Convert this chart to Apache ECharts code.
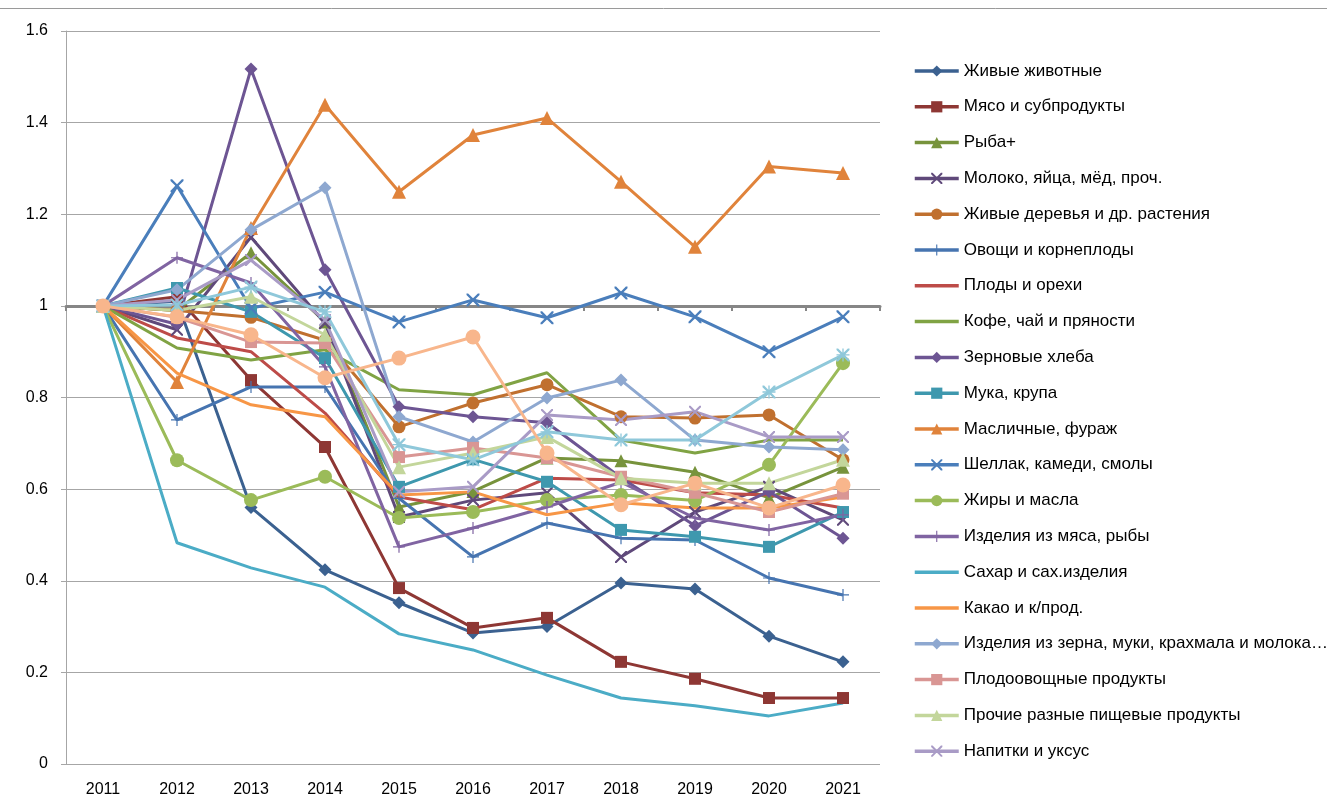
<!DOCTYPE html>
<html>
<head>
  <meta charset="utf-8">
  <title>Индексы</title>
  <style>
    html, body { margin: 0; padding: 0; background: #fff; }
    #chart { width: 1327px; height: 808px; }
  </style>
  <script src="https://cdn.jsdelivr.net/npm/echarts@6/dist/echarts.min.js"></script>
</head>
<body>
  <div id="chart"></div>
  <script>
    // годы и значения рядов (2011 = 1)
    var years = ['2011', '2012', '2013', '2014', '2015', '2016', '2017', '2018', '2019', '2020', '2021'];
    var yTicks = [0, 0.2, 0.4, 0.6, 0.8, 1, 1.2, 1.4, 1.6];

    var zhivotnye   = [1, 1.01, 0.56, 0.424, 0.352, 0.286, 0.30, 0.395, 0.382, 0.279, 0.223];
    var myaso       = [1, 1.02, 0.838, 0.692, 0.384, 0.297, 0.319, 0.223, 0.186, 0.144, 0.144];
    var ryba        = [1, 0.99, 1.116, 0.965, 0.561, 0.595, 0.668, 0.662, 0.637, 0.581, 0.648];
    var moloko      = [1, 0.948, 1.15, 0.962, 0.539, 0.576, 0.592, 0.452, 0.55, 0.605, 0.533];
    var derevya     = [1, 0.99, 0.975, 0.925, 0.736, 0.788, 0.828, 0.758, 0.755, 0.762, 0.664];
    var ovoshchi    = [1, 0.751, 0.823, 0.823, 0.58, 0.452, 0.526, 0.493, 0.489, 0.406, 0.369];
    var plody       = [1, 0.93, 0.90, 0.766, 0.583, 0.555, 0.624, 0.62, 0.592, 0.587, 0.559];
    var kofe        = [1, 0.908, 0.882, 0.904, 0.817, 0.806, 0.854, 0.707, 0.679, 0.707, 0.707];
    var zernovye    = [1, 0.96, 1.517, 1.079, 0.78, 0.758, 0.745, 0.625, 0.52, 0.595, 0.493];
    var muka        = [1, 1.039, 0.987, 0.886, 0.605, 0.665, 0.616, 0.511, 0.496, 0.474, 0.55];
    var maslichnye  = [1, 0.834, 1.17, 1.439, 1.249, 1.373, 1.41, 1.271, 1.129, 1.304, 1.29];
    var shellak     = [1, 1.262, 0.995, 1.03, 0.965, 1.013, 0.974, 1.028, 0.976, 0.90, 0.976];
    var zhiry       = [1, 0.663, 0.576, 0.627, 0.537, 0.55, 0.576, 0.587, 0.575, 0.653, 0.875];
    var izdMyaso    = [1, 1.105, 1.05, 0.867, 0.474, 0.515, 0.561, 0.615, 0.537, 0.511, 0.544];
    var sakhar      = [1, 0.483, 0.428, 0.386, 0.284, 0.249, 0.194, 0.144, 0.127, 0.105, 0.133];
    var kakao       = [1, 0.853, 0.784, 0.758, 0.587, 0.594, 0.544, 0.57, 0.559, 0.559, 0.583];
    var izdZerno    = [1, 1.035, 1.166, 1.258, 0.758, 0.703, 0.799, 0.838, 0.707, 0.692, 0.686];
    var plodoovosh  = [1, 0.975, 0.921, 0.919, 0.67, 0.69, 0.668, 0.627, 0.592, 0.55, 0.59];
    var prochie     = [1, 0.99, 1.02, 0.937, 0.648, 0.679, 0.714, 0.624, 0.613, 0.613, 0.664];
    var napitki     = [1, 1.013, 1.10, 0.969, 0.594, 0.605, 0.762, 0.751, 0.769, 0.714, 0.714];
    // два ряда, не попавшие в легенду
    var ryad21      = [1, 1.002, 1.041, 0.987, 0.697, 0.664, 0.725, 0.707, 0.707, 0.812, 0.893];
    var ryad22      = [1, 0.976, 0.937, 0.843, 0.886, 0.932, 0.679, 0.566, 0.613, 0.559, 0.609];

    // маркеры как в Excel
    var X = 'path://M0,0L2.5,0L10,7.5L17.5,0L20,0L20,2.5L12.5,10L20,17.5L20,20L17.5,20L10,12.5L2.5,20L0,20L0,17.5L7.5,10L0,2.5Z';
    var PLUS = 'path://M9,0L11,0L11,9L20,9L20,11L11,11L11,20L9,20L9,11L0,11L0,9L9,9Z';
    var STAR = 'path://M0,0L2.5,0L10,7.5L17.5,0L20,0L20,2.5L12.5,10L20,17.5L20,20L17.5,20L10,12.5L2.5,20L0,20L0,17.5L7.5,10L0,2.5Z' +
               'M9,0L11,0L11,9L20,9L20,11L11,11L11,20L9,20L9,11L0,11L0,9L9,9Z';

    var defs = [
      ['Живые животные', zhivotnye, '#3B6190', 'diamond', 13],
      ['Мясо и субпродукты', myaso, '#8E3734', 'rect', 12],
      ['Рыба+', ryba, '#77933C', 'triangle', 13],
      ['Молоко, яйца, мёд, проч.', moloko, '#5F497A', X, 12],
      ['Живые деревья и др. растения', derevya, '#C0702F', 'circle', 13],
      ['Овощи и корнеплоды', ovoshchi, '#4674B0', PLUS, 12],
      ['Плоды и орехи', plody, '#BD4B48', 'none', 0],
      ['Кофе, чай и пряности', kofe, '#80A344', 'none', 0],
      ['Зерновые хлеба', zernovye, '#6D5593', 'diamond', 13],
      ['Мука, крупа', muka, '#3E98AE', 'rect', 12],
      ['Масличные, фураж', maslichnye, '#E0833B', 'triangle', 14],
      ['Шеллак, камеди, смолы', shellak, '#4A7EBB', X, 13],
      ['Жиры и масла', zhiry, '#9BBB59', 'circle', 14],
      ['Изделия из мяса, рыбы', izdMyaso, '#8064A2', PLUS, 12],
      ['Сахар и сах.изделия', sakhar, '#4BACC6', 'none', 0],
      ['Какао и к/прод.', kakao, '#F79646', 'none', 0],
      ['Изделия из зерна, муки, крахмала и молока…', izdZerno, '#8EA8D0', 'diamond', 13],
      ['Плодоовощные продукты', plodoovosh, '#D99694', 'rect', 12],
      ['Прочие разные пищевые продукты', prochie, '#C3D69B', 'triangle', 14],
      ['Напитки и уксус', napitki, '#A99BC6', X, 12],
      ['Ряд 21', ryad21, '#8FC8DA', STAR, 13],
      ['Ряд 22', ryad22, '#F8B68C', 'circle', 15]
    ];

    var series = defs.map(function (d) {
      return {
        name: d[0],
        type: 'line',
        data: d[1],
        symbol: d[3],
        symbolSize: d[4],
        showSymbol: d[3] !== 'none',
        lineStyle: { color: d[2], width: 3 },
        itemStyle: { color: d[2] },
        emphasis: { disabled: true },
        animation: false
      };
    });

    // в легенде только первые 20 рядов; у рядов без маркера — только линия
    var legendData = defs.slice(0, 20).map(function (d) {
      var item = { name: d[0] };
      if (d[3] === 'none') item.itemStyle = { opacity: 0 };
      return item;
    });

    var gridTop = 31, gridBottom = 44, H = 808;
    var plotH = H - gridTop - gridBottom;

    var myChart = echarts.init(document.getElementById('chart'));
    var option = {
      backgroundColor: '#fff',
      graphic: [{
        type: 'line', shape: { x1: 0, y1: 8.5, x2: 1327, y2: 8.5 },
        style: { stroke: '#9a9a9a', lineWidth: 1 }
      }],
      grid: { left: 66, right: 447, top: gridTop, bottom: gridBottom },
      legend: {
        data: legendData,
        orient: 'vertical',
        left: 908,
        top: 57.5,
        itemWidth: 44,
        itemHeight: 14,
        itemGap: 18.8,
        selectedMode: false,
        lineStyle: { width: 3.5 },
        textStyle: {
          fontFamily: '"Liberation Sans Narrow", "Liberation Sans", Arial, sans-serif',
          fontSize: 17,
          lineHeight: 14,
          color: '#000'
        }
      },
      xAxis: [{
        type: 'category',
        data: years,
        boundaryGap: true,
        axisLine: { show: false },
        axisTick: { show: false },
        axisLabel: {
          margin: 18,
          fontFamily: '"Liberation Sans", Arial, sans-serif',
          fontSize: 16,
          color: '#000'
        }
      }, {
        // горизонтальная ось пересекает вертикальную в точке 1
        type: 'category',
        data: years,
        boundaryGap: true,
        position: 'bottom',
        offset: -plotH / 1.6,
        axisLine: { show: true, lineStyle: { color: '#868686', width: 3 } },
        axisTick: { show: true, length: 5, lineStyle: { color: '#868686', width: 2 } },
        axisLabel: { show: false }
      }],
      yAxis: {
        type: 'value',
        min: yTicks[0],
        max: yTicks[yTicks.length - 1],
        interval: 0.2,
        axisLine: { show: true, lineStyle: { color: '#a6a6a6', width: 1 } },
        axisTick: { show: true, length: 5, lineStyle: { color: '#a6a6a6' } },
        splitLine: { show: true, lineStyle: { color: '#a6a6a6', width: 1 } },
        axisLabel: {
          margin: 18,
          fontFamily: '"Liberation Sans", Arial, sans-serif',
          fontSize: 16,
          color: '#000'
        }
      },
      series: series
    };
    myChart.setOption(option);
  </script>
</body>
</html>
